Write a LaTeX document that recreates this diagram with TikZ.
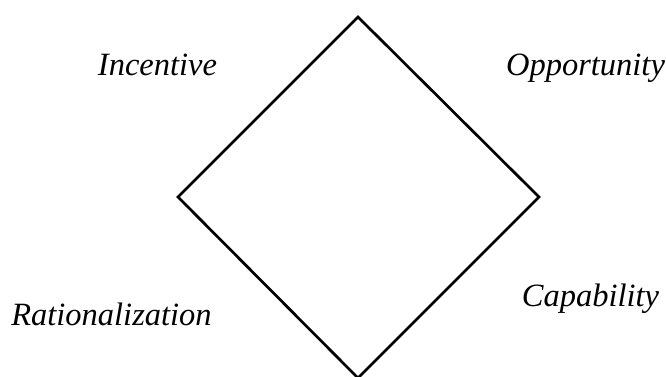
\documentclass[tikz,border=0pt]{standalone}
\usepackage{fontspec}
\setmainfont{Liberation Serif}
\begin{document}
\begin{tikzpicture}[x=1pt,y=-1pt,
  lbl/.style={font=\fontsize{32.5}{36}\selectfont\itshape, anchor=base, inner sep=0pt},
  edge/.style={draw=black, line width=2.7pt, line join=miter}]
\useasboundingbox (0,0) rectangle (666,376);
\coordinate (T) at (358,17);
\coordinate (L) at (178,197);
\coordinate (R) at (539,197);
\coordinate (B) at (358,378);
\draw[edge] (T) -- (R) -- (B) -- (L) -- cycle;
\node[lbl] (inc) at (157.5,75) {Incentive};
\node[lbl] (opp) at (585.5,75) {Opportunity};
\node[lbl] (rat) at (111.5,325) {Rationalization};
\node[lbl] (cap) at (590.5,306) {Capability};
\end{tikzpicture}
\end{document}
